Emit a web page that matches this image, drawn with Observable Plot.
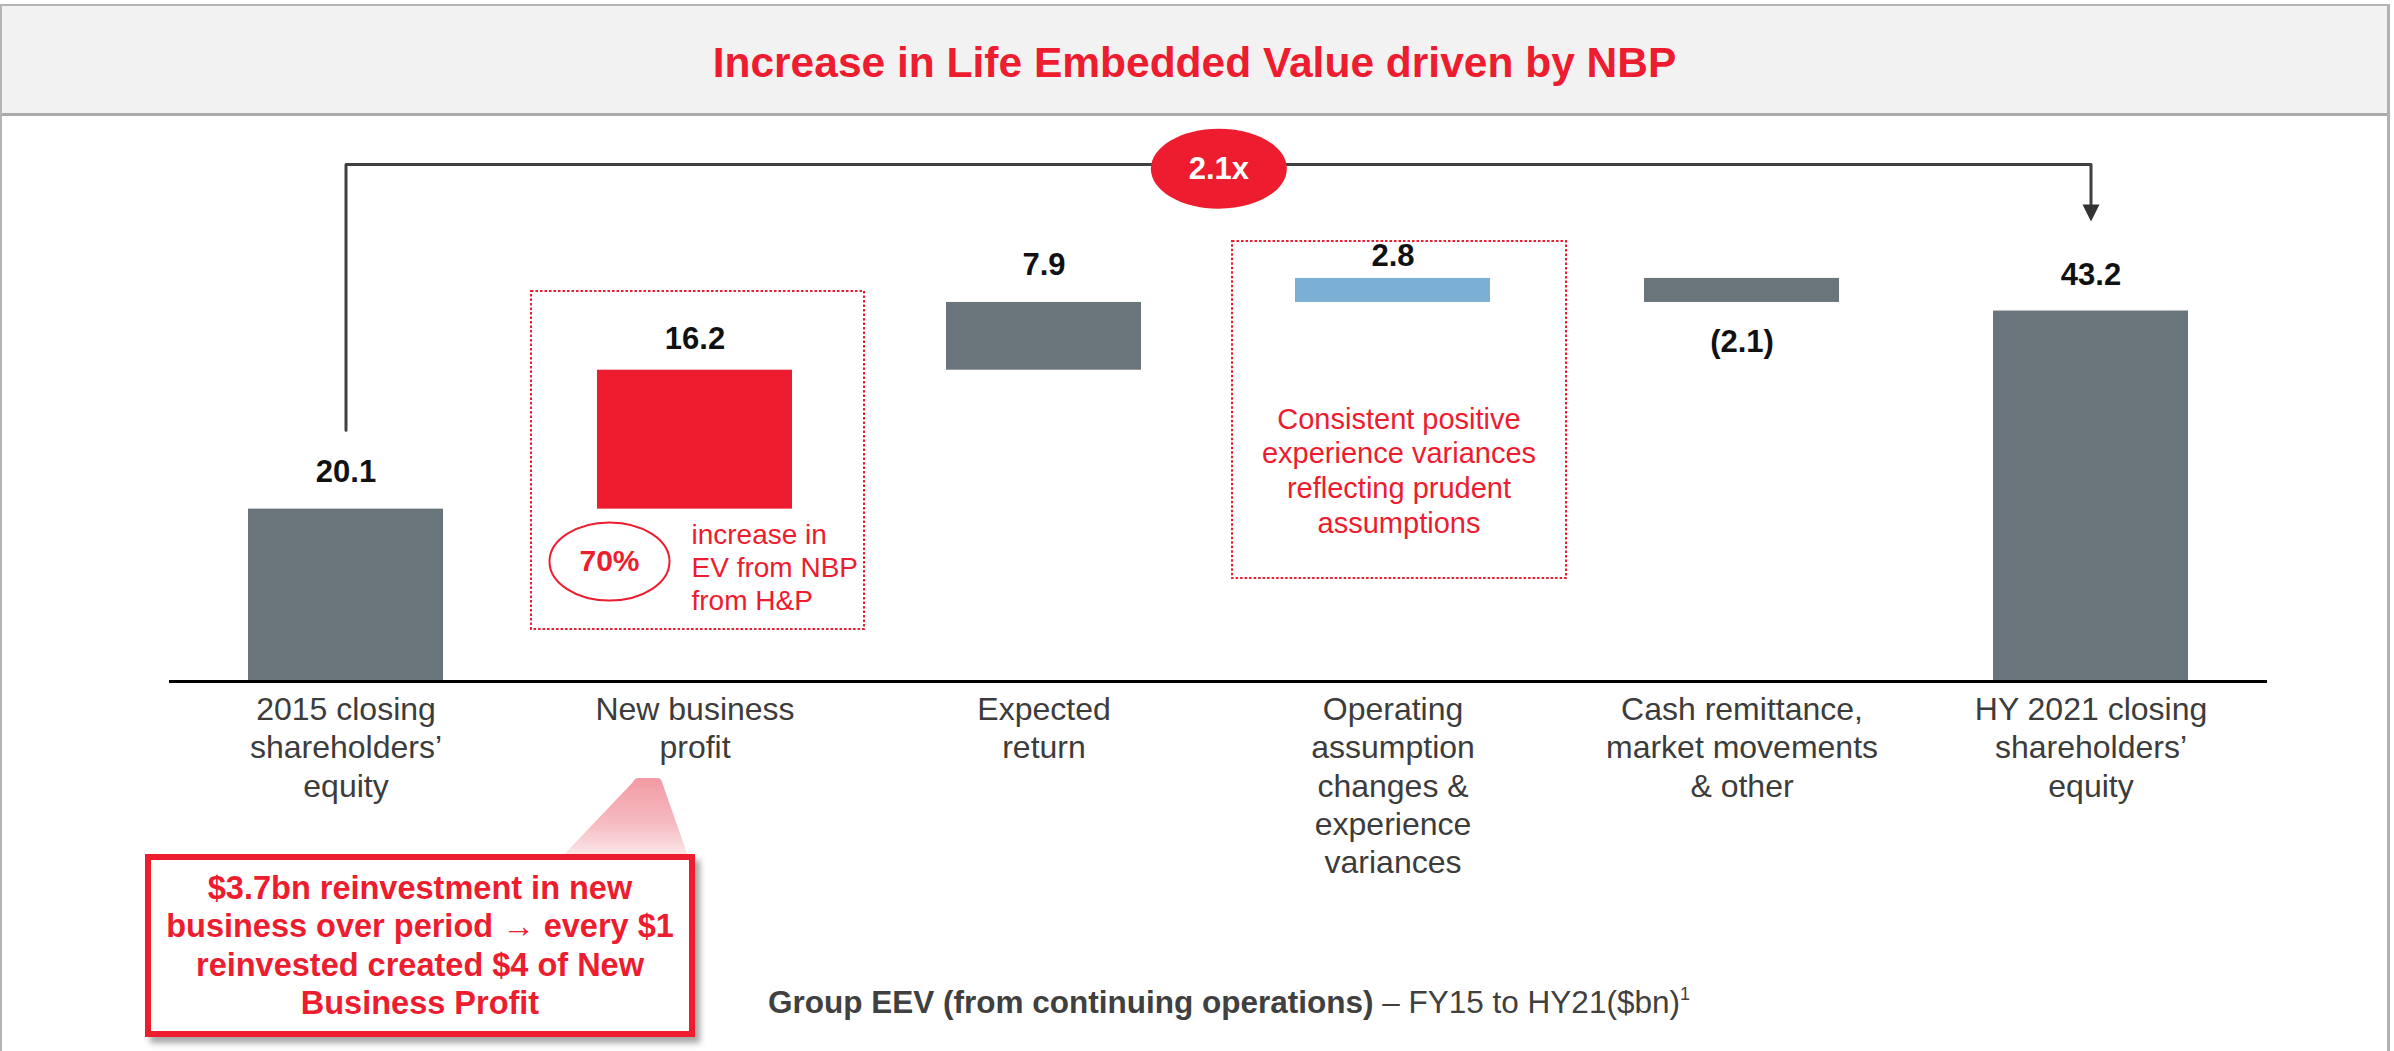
<!DOCTYPE html>
<html><head><meta charset="utf-8">
<script src="https://cdn.jsdelivr.net/npm/d3@7"></script>
<script src="https://cdn.jsdelivr.net/npm/@observablehq/plot@0.6"></script>
<style>
html,body{margin:0;padding:0;background:#fff;}
#page{position:relative;width:2394px;height:1051px;overflow:hidden;font-family:"Liberation Sans",Arial,sans-serif;background:#fff;}
#frame{position:absolute;left:0;top:4px;width:2390px;height:1060px;border-left:2px solid #b4b6b4;border-top:2px solid #b4b6b4;border-right:3px solid #b0b2b0;box-sizing:border-box;}
#titlebar{position:absolute;left:2px;top:6px;width:2385px;height:107px;background:#f2f2f2;border-bottom:3px solid #a9aba9;}
#title{position:absolute;left:0;top:0;width:100%;height:107px;line-height:107px;padding-top:3px;box-sizing:border-box;text-align:center;font-size:42.5px;font-weight:bold;color:#ed1c2e;}
#chart{position:absolute;left:0;top:115px;}
#funnel{position:absolute;left:0;top:0;}
#callout{position:absolute;left:145px;top:854px;width:550px;height:183px;border:6px solid #ed1c2e;box-sizing:border-box;background:#fff;box-shadow:5px 6px 6px rgba(0,0,0,0.35);display:flex;align-items:center;justify-content:center;text-align:center;color:#ed1c2e;font-weight:bold;font-size:32.5px;line-height:38.5px;white-space:nowrap;}
#caption{position:absolute;left:0;width:2458px;top:984px;text-align:center;font-size:31.5px;color:#404040;white-space:nowrap;}
#caption sup{font-size:18px;vertical-align:13px;line-height:0;}
</style>
</head><body>
<div id="page">
  <div id="frame"></div>
  <div id="titlebar"><div id="title">Increase in Life Embedded Value driven by NBP</div></div>
  <div id="chart"></div>
  <svg id="funnel" width="2394" height="1051">
    <defs><linearGradient id="fg" x1="0" y1="0" x2="0" y2="1">
      <stop offset="0" stop-color="#f29aa3"/><stop offset="0.55" stop-color="#f6bcc1"/><stop offset="1" stop-color="#fdf0f1"/></linearGradient></defs>
    <path d="M638,778 L657,778 Q661,778 662,782 L690,862 L557,862 L633,782 Q635,778 638,778 Z" fill="url(#fg)"/>
  </svg>
  <div id="callout"><div>$3.7bn reinvestment in new<br>business over period → every $1<br>reinvested created $4 of New<br>Business Profit</div></div>
  <div id="caption"><b>Group EEV (from continuing operations)</b> – FY15 to HY21($bn)<sup>1</sup></div>
</div>
<script>
// ---- data ----
const keys = ["2015", "NBP", "Expected", "Operating", "Cash", "HY2021"];
const categoryLabels = [
  "2015 closing\nshareholders’\nequity",
  "New business\nprofit",
  "Expected\nreturn",
  "Operating\nassumption\nchanges &\nexperience\nvariances",
  "Cash remittance,\nmarket movements\n& other",
  "HY 2021 closing\nshareholders’\nequity"
];
const values = [20.1, 16.2, 7.9, 2.8, -2.1, 43.2];
const valueLabels = ["20.1", "16.2", "7.9", "2.8", "(2.1)", "43.2"];
// bar extents as drawn in the picture
const barBase = [0, 20.1, 36.3, 44.2, 47.0, 0];
const barEnd  = [20.1, 36.3, 44.2, 47.0, 44.2, 43.2];
const kinds = ["total", "nbp", "step", "variance", "step", "total"];
const multipleLabel = "2.1x";

// ---- layout / style ----
const W = 2394, H = 936, ML = 169, MR = 127, MB = 370, YMAX = 66;
const pxPerUnit = (H - MB) / YMAX;
const labelGap = [37, 31, 37, 22, 40, 36];
const gray = "#6a747b", red = "#ed1c2e", blue = "#7bafd4";
const step = (W - ML - MR) / keys.length;

const rows = keys.map((k, i) => {
  const hi = Math.max(barBase[i], barEnd[i]), lo = Math.min(barBase[i], barEnd[i]);
  return {
    key: k, base: barBase[i], end: barEnd[i], kind: kinds[i], label: valueLabels[i],
    ly: values[i] >= 0 ? hi + labelGap[i] / pxPerUnit : lo - labelGap[i] / pxPerUnit
  };
});
const labelOf = Object.fromEntries(keys.map((k, i) => [k, categoryLabels[i]]));

// annotation anchors (data units)
const bracketTop = 60.3;
const bracket = [
  {key: "2015", v: 29.3}, {key: "2015", v: bracketTop},
  {key: "HY2021", v: bracketTop}, {key: "HY2021", v: 55.2}
];
const boxes = [
  {key: "NBP", lo: 6.06, hi: 45.48},
  {key: "Operating", lo: 12.0, hi: 51.31}
];

const ellipse = (rx, ry) => ({draw(ctx) {
  const c = 0.5523;
  ctx.moveTo(rx, 0);
  ctx.bezierCurveTo(rx, c * ry, c * rx, ry, 0, ry);
  ctx.bezierCurveTo(-c * rx, ry, -rx, c * ry, -rx, 0);
  ctx.bezierCurveTo(-rx, -c * ry, -c * rx, -ry, 0, -ry);
  ctx.bezierCurveTo(c * rx, -ry, rx, -c * ry, rx, 0);
  ctx.closePath();
}});
const arrowHead = {draw(ctx) { ctx.moveTo(-8.5, -17); ctx.lineTo(8.5, -17); ctx.lineTo(0, 0); ctx.closePath(); }};

const font = "Liberation Sans, Arial, sans-serif";

const chart = Plot.plot({
  width: W, height: H,
  marginLeft: ML, marginRight: MR, marginTop: 0, marginBottom: MB,
  x: {domain: keys, paddingInner: 0.4423, paddingOuter: 0.2212},
  y: {domain: [0, YMAX], axis: null},
  color: {domain: ["total", "nbp", "step", "variance"], range: [gray, red, gray, blue]},
  style: {fontFamily: font, background: "transparent", overflow: "visible"},
  marks: [
    // dotted annotation boxes
    Plot.barY(boxes.slice(0, 1), {x: "key", y1: "lo", y2: "hi", fill: "none", stroke: red, strokeWidth: 2, strokeDasharray: "2.5,2", insetLeft: -66, insetRight: -72}),
    Plot.barY(boxes.slice(1), {x: "key", y1: "lo", y2: "hi", fill: "none", stroke: red, strokeWidth: 2, strokeDasharray: "2.5,2", insetLeft: -63, insetRight: -76}),
    // waterfall bars
    Plot.barY(rows, {x: "key", y1: "base", y2: "end", fill: "kind"}),
    Plot.ruleY([0], {stroke: "#000", strokeWidth: 3}),
    Plot.axisX({tickSize: 0, tickPadding: 11, fontSize: 32, lineHeight: 1.2, fill: "#3c3c3c", tickFormat: k => labelOf[k], label: null}),
    // value labels
    Plot.text(rows, {x: "key", y: "ly", text: "label", fontSize: 31, fontWeight: "bold", fill: "#111"}),
    // bracket 2.1x
    Plot.line(bracket, {x: "key", y: "v", stroke: "#404040", strokeWidth: 3}),
    Plot.dot([{key: "HY2021", v: 53.64}], {x: "key", y: "v", symbol: arrowHead, fill: "#333", stroke: "none"}),
    Plot.dot([{key: "Expected", v: 59.8}], {x: "key", y: "v", dx: step / 2, symbol: ellipse(68, 40), fill: red, stroke: "none"}),
    Plot.text([{key: "Expected", v: 59.8}], {x: "key", y: "v", dx: step / 2, text: () => multipleLabel, fill: "#fff", fontSize: 31, fontWeight: "bold"}),
    // NBP callouts
    Plot.dot([{key: "NBP", v: 13.99}], {x: "key", y: "v", dx: -85.5, symbol: ellipse(60, 39), fill: "#fff", stroke: red, strokeWidth: 2}),
    Plot.text([{key: "NBP", v: 13.99}], {x: "key", y: "v", dx: -85.5, text: () => "70%", fill: red, fontSize: 30, fontWeight: "bold"}),
    Plot.text([{key: "NBP", v: 13.4}], {x: "key", y: "v", dx: -3.5, textAnchor: "start", text: () => "increase in\nEV from NBP\nfrom H&P", fill: red, fontSize: 28, lineHeight: 1.18}),
    Plot.text([{key: "Operating", v: 24.7}], {x: "key", y: "v", dx: 6, text: () => "Consistent positive\nexperience variances\nreflecting prudent\nassumptions", fill: red, fontSize: 29, lineHeight: 1.2})
  ]
});
document.getElementById("chart").appendChild(chart);
</script>
</body></html>
